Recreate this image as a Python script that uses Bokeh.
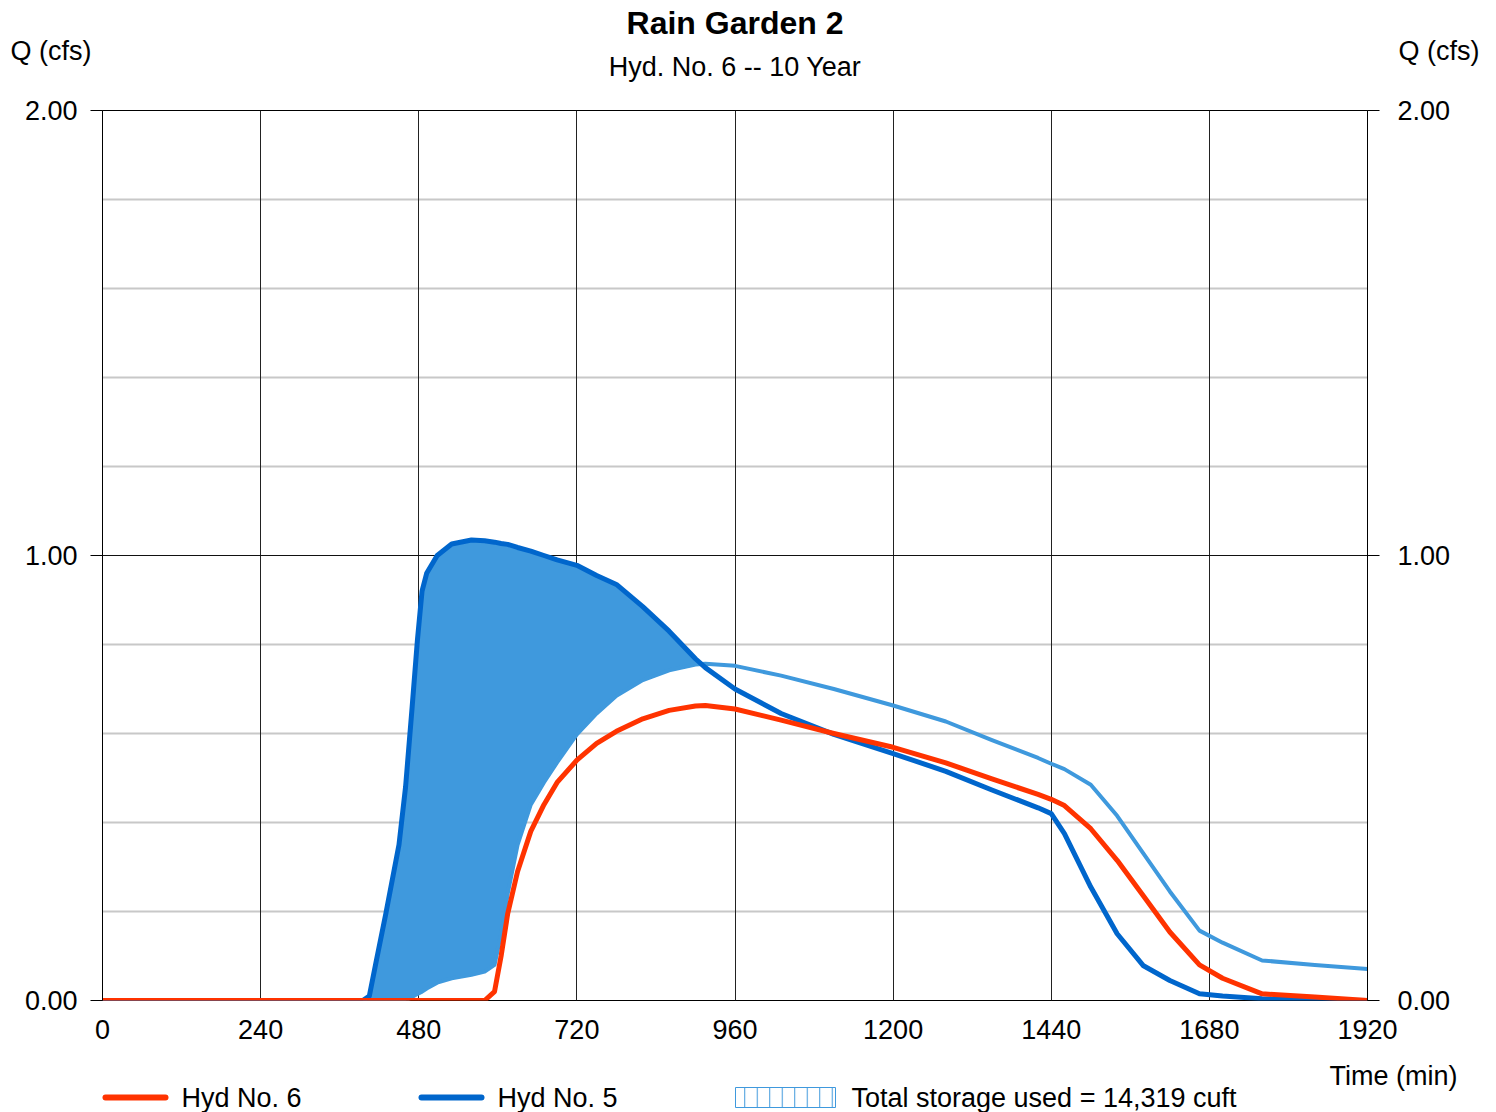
import numpy as np
from bokeh.plotting import figure
from bokeh.layouts import column
from bokeh.models import FixedTicker, PrintfTickFormatter, LinearAxis, Grid
from bokeh.core.properties import value
from bokeh.embed import file_html
from bokeh.resources import INLINE

# ---------------- data ----------------
time_min = [0, 360, 395, 405, 415, 430, 450, 460, 470, 478,
            485, 492, 508, 530, 560, 580, 595, 605, 615, 630,
            650, 670, 690, 720, 750, 780, 820, 860, 900, 915,
            960, 1030, 1110, 1200, 1280, 1350, 1420, 1440, 1460, 1500,
            1540, 1580, 1620, 1665, 1700, 1760, 1840, 1920]

# Hyd No. 5 (inflow)
hyd5 = [0, 0, 0, 0.01, 0.085, 0.195, 0.35, 0.48, 0.66, 0.81,
        0.92, 0.96, 1.0, 1.026, 1.035, 1.033, 1.03, 1.027, 1.025, 1.018,
        1.01, 1.0, 0.99, 0.978, 0.955, 0.935, 0.885, 0.83, 0.768, 0.748,
        0.70, 0.645, 0.598, 0.555, 0.515, 0.473, 0.433, 0.42, 0.375, 0.255,
        0.15, 0.078, 0.045, 0.015, 0.01, 0.004, 0.001, 0]

# storage lower boundary (light blue)
storage_base = [0, 0, 0, 0, 0, 0, 0, 0, 0.008, 0.015,
                0.02, 0.027, 0.04, 0.05, 0.058, 0.065, 0.08, 0.15, 0.24, 0.35,
                0.44, 0.49, 0.535, 0.598, 0.645, 0.685, 0.72, 0.742, 0.755, 0.757,
                0.752, 0.73, 0.70, 0.663, 0.627, 0.585, 0.545, 0.532, 0.52, 0.485,
                0.415, 0.33, 0.245, 0.157, 0.13, 0.09, 0.08, 0.071]

# Hyd No. 6 (outflow)
hyd6 = [0, 0, 0, 0, 0, 0, 0, 0, 0, 0,
        0, 0, 0, 0, 0, 0, 0.02, 0.10, 0.195, 0.29,
        0.38, 0.44, 0.49, 0.54, 0.578, 0.605, 0.633, 0.652, 0.662, 0.663,
        0.655, 0.63, 0.60, 0.569, 0.534, 0.498, 0.463, 0.452, 0.438, 0.386,
        0.315, 0.235, 0.154, 0.08, 0.05, 0.015, 0.008, 0]

x_ticks = [0, 240, 480, 720, 960, 1200, 1440, 1680, 1920]
y_ticks = [0, 1, 2]
y_minor = [0.2, 0.4, 0.6, 0.8, 1.2, 1.4, 1.6, 1.8]

title_text = "Rain Garden 2"
subtitle_text = "Hyd. No. 6 -- 10 Year"
y_label = "Q (cfs)"
x_label = "Time (min)"
legend_labels = ["Hyd No. 6", "Hyd No. 5", "Total storage used = 14,319 cuft"]

RED = "#FF3300"
BLUE = "#0066CC"
LBLUE = "#3F99DD"
FONT = "Liberation Sans"
FS = "27px"
W = 1496


def blank(h, y_top, y_bottom):
    f = figure(frame_width=W, frame_height=h, x_range=(0, W),
               y_range=(y_bottom, y_top), x_axis_type=None, y_axis_type=None,
               output_backend="svg", toolbar_location=None, min_border=0,
               min_border_left=0, min_border_right=0, min_border_top=0,
               min_border_bottom=0, frame_align=False,
               outline_line_color=None, background_fill_color="white",
               border_fill_color="white")
    f.xgrid.visible = False
    f.ygrid.visible = False
    return f


def txt(f, x, y, s, size=FS, align="left", style="normal"):
    f.text(x=[x], y=[y], text=[s], text_font=value(FONT),
           text_font_size=value(size), text_align=align,
           text_baseline="middle", text_color="black",
           text_font_style=style)


# ---------------- header ----------------
head = blank(95, 0, 95)
txt(head, 734.5, 22, title_text, size="32px", align="center", style="bold")
txt(head, 734.5, 66, subtitle_text, align="center")
txt(head, 10, 50, y_label)
txt(head, 1398, 50, y_label)

# ---------------- main chart ----------------
p = figure(frame_width=1265, frame_height=890, x_range=(0, 1920), y_range=(0, 2),
           output_backend="svg", toolbar_location=None, frame_align=False,
           min_border_left=102, min_border_right=129, min_border_top=15,
           min_border_bottom=45, background_fill_color="white",
           border_fill_color="white", outline_line_color="black",
           outline_line_width=1)

xa = p.xaxis[0]
xa.ticker = FixedTicker(ticks=x_ticks)
xa.major_tick_out = 0
xa.major_tick_in = 0
xa.minor_tick_out = 0
xa.minor_tick_in = 0
xa.axis_line_color = None
xa.major_label_standoff = 19
xa.major_label_text_font = FONT
xa.major_label_text_font_size = FS
xa.major_label_text_color = "black"

ya = p.yaxis[0]
ya.ticker = FixedTicker(ticks=y_ticks)
ya.formatter = PrintfTickFormatter(format="%.2f")
ra = LinearAxis(ticker=FixedTicker(ticks=y_ticks),
                formatter=PrintfTickFormatter(format="%.2f"))
p.add_layout(ra, "right")

for ax, standoff in [(ya, 13), (ra, 18)]:
    ax.major_tick_out = 12
    ax.major_tick_in = 0
    ax.minor_tick_out = 0
    ax.minor_tick_in = 0
    ax.major_tick_line_color = "black"
    ax.major_tick_line_width = 1
    ax.axis_line_color = "black"
    ax.major_label_standoff = standoff
    ax.major_label_text_font = FONT
    ax.major_label_text_font_size = FS
    ax.major_label_text_color = "black"

p.xgrid[0].ticker = FixedTicker(ticks=x_ticks)
p.xgrid[0].grid_line_color = "#222222"
p.xgrid[0].grid_line_width = 1
p.ygrid[0].ticker = FixedTicker(ticks=y_ticks)
p.ygrid[0].grid_line_color = "#111111"
p.ygrid[0].grid_line_width = 1.2
minor_grid = Grid(dimension=1, ticker=FixedTicker(ticks=y_minor),
                  grid_line_color="#C8C8C8", grid_line_width=2)
p.center.insert(0, minor_grid)

upper = np.maximum(np.array(hyd5), np.array(storage_base))
p.varea(x=time_min, y1=storage_base, y2=upper, fill_color=LBLUE, fill_alpha=1.0)
p.line(time_min, storage_base, line_color=LBLUE, line_width=4,
       line_join="round", line_cap="round")
p.line(time_min, hyd5, line_color=BLUE, line_width=5,
       line_join="round", line_cap="round")
p.line(time_min, hyd6, line_color=RED, line_width=5,
       line_join="round", line_cap="round")

# ---------------- footer (axis title + legend) ----------------
foot = blank(67, 1045, 1112)
txt(foot, 1329, 1075, x_label)
foot.line(x=[105, 165], y=[1097, 1097], line_color=RED, line_width=6,
          line_cap="round")
txt(foot, 181, 1097, legend_labels[0])
foot.line(x=[421, 481], y=[1097, 1097], line_color=BLUE, line_width=6,
          line_cap="round")
txt(foot, 497, 1097, legend_labels[1])
foot.quad(left=[735], right=[835], top=[1087], bottom=[1107],
          fill_color="white", line_color=LBLUE, line_width=1,
          hatch_pattern="vertical_line", hatch_color=LBLUE,
          hatch_scale=12.5, hatch_weight=1)
txt(foot, 851, 1097, legend_labels[2])

layout = column(head, p, foot, spacing=0)
open("out.html", "w").write(file_html(layout, INLINE))
